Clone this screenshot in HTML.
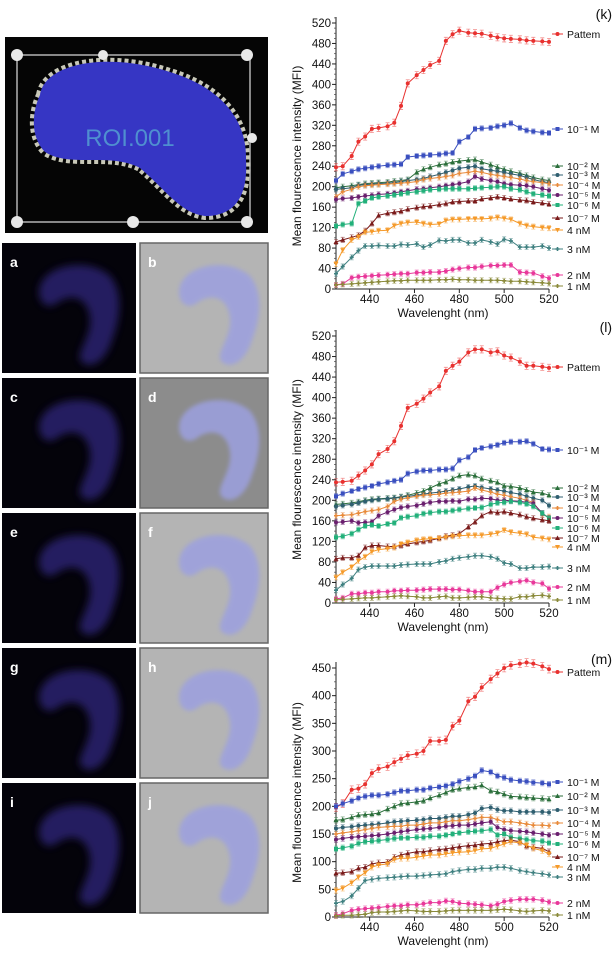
<!DOCTYPE html>
<html><head><meta charset="utf-8"><style>
html,body{margin:0;padding:0;background:#fff;}
svg{display:block;font-family:"Liberation Sans",sans-serif;}
</style></head><body>
<svg id="fig" width="615" height="957" viewBox="0 0 615 957" xmlns="http://www.w3.org/2000/svg">
<defs>
<filter id="blur2"><feGaussianBlur stdDeviation="2"/></filter>
<filter id="blur4"><feGaussianBlur stdDeviation="4"/></filter>
<clipPath id="topclip"><rect x="5" y="37" width="263" height="196"/></clipPath>
</defs>
<g id="top-image" clip-path="url(#topclip)">
<rect x="5" y="37" width="263" height="196" fill="#050505"/>
<rect x="17" y="55" width="233" height="167" fill="none" stroke="#888" stroke-width="2"/>
<path d="M 40,95 C 45,62 110,52 170,72 C 222,88 247,120 246,160 C 248,195 236,216 205,216 C 180,213 166,190 140,168 C 110,152 70,168 45,152 C 30,137 32,112 40,95 Z" fill="none" stroke="#c8c8b8" stroke-width="8" stroke-dasharray="4 3"/>
<path d="M 40,95 C 45,62 110,52 170,72 C 222,88 247,120 246,160 C 248,195 236,216 205,216 C 180,213 166,190 140,168 C 110,152 70,168 45,152 C 30,137 32,112 40,95 Z" fill="#3636c4"/>
<text x="130" y="146" font-size="24" fill="#4f8fd0" text-anchor="middle">ROI.001</text>
<g fill="#e8e8e8">
<circle cx="17" cy="55" r="6"/><circle cx="103" cy="55" r="5"/><circle cx="247" cy="55" r="6"/>
<circle cx="17" cy="222" r="6"/><circle cx="133" cy="222" r="6"/><circle cx="247" cy="222" r="6"/><circle cx="252" cy="138" r="5"/>
</g>
</g>
<g id="panels"></g>
<g id="chart-k"></g>
<g id="chart-l"></g>
<g id="chart-m"></g>
</svg>
<script>
const wavelengths=[425,428,432,435,438,441,444,448,451,454,457,461,464,467,471,474,477,480,484,487,490,494,497,500,503,507,510,513,517,520];
const seriesNames=["Pattem","10\u207B\u00B9 M","10\u207B\u00B2 M","10\u207B\u00B3 M","10\u207B\u2074 M","10\u207B\u2075 M","10\u207B\u2076 M","10\u207B\u2077 M","4 nM","3 nM","2 nM","1 nM"];
// chart k
const k_pattem=[238,240,260,288,298,313,315,318,325,358,402,418,428,438,446,485,498,505,501,500,499,495,492,490,489,488,486,485,484,483];
const k_m1=[212,225,230,234,236,238,240,242,243,244,258,260,261,262,263,265,266,288,297,313,314,315,318,320,324,315,310,308,306,305];
const k_m2=[198,200,202,204,206,207,208,209,211,212,214,228,234,238,243,245,248,250,252,253,248,243,238,234,230,226,222,218,214,212];
const k_m3=[195,196,198,203,204,205,206,207,208,210,212,214,216,220,224,228,232,236,238,240,235,232,230,228,225,222,218,214,210,208];
const k_m4=[180,190,195,200,202,203,204,205,206,207,208,210,214,216,218,220,222,226,228,230,228,224,222,220,218,215,212,210,208,206];
const k_m5=[175,177,178,180,182,183,185,186,188,190,192,195,196,198,200,202,204,206,210,220,215,212,210,206,204,203,202,200,196,193];
const k_m6=[123,126,128,167,172,178,180,182,184,186,188,190,192,194,195,196,196,196,196,197,198,199,200,200,196,194,190,186,184,182];
const k_m7=[92,96,101,105,114,128,144,148,150,152,156,159,161,162,165,167,170,171,172,172,176,178,180,178,176,174,173,170,168,166];
const k_n4=[49,76,96,102,111,112,114,115,124,128,130,131,128,126,127,134,136,136,137,137,137,138,140,138,136,128,124,122,120,119];
const k_n3=[30,44,62,75,84,84,85,84,84,87,86,88,82,86,95,94,96,96,90,90,96,92,88,97,94,82,82,82,84,80];
const k_n2=[8,10,22,24,25,26,27,28,29,30,30,32,32,33,33,35,38,40,42,42,44,46,46,47,47,33,32,31,25,21];
const k_n1=[8,9,10,11,12,13,14,15,16,16,17,17,17,17,18,18,19,18,18,17,17,17,17,16,15,15,14,13,12,11];
// chart l
const l_pattem=[235,236,238,248,258,270,290,300,315,345,380,388,398,410,422,452,462,470,488,494,494,488,490,482,478,470,462,462,460,458];
const l_m1=[208,213,218,222,225,228,232,235,238,240,252,256,258,258,260,260,262,278,284,298,302,305,308,312,314,314,315,310,300,299];
const l_m2=[192,193,195,197,200,202,203,204,205,207,210,214,218,224,232,236,242,248,250,248,242,238,235,228,227,224,220,216,214,210];
const l_m3=[188,190,192,195,198,200,202,203,204,206,208,210,212,214,216,218,220,222,226,228,225,222,220,218,215,212,208,204,200,190];
const l_m4=[170,171,172,175,178,180,182,188,198,202,205,208,210,211,212,214,215,216,218,224,220,216,212,210,207,204,200,196,172,168];
const l_m5=[157,158,160,156,157,158,170,177,182,186,188,190,193,196,198,198,199,198,202,202,204,203,200,200,199,198,196,194,175,165];
const l_m6=[128,130,135,143,150,152,150,154,156,166,168,170,174,176,178,178,180,182,184,185,186,192,195,196,198,196,193,188,175,165];
const l_m7=[86,88,88,92,108,112,112,110,110,112,115,118,120,122,126,130,132,135,148,158,170,178,176,178,175,172,168,165,162,160];
const l_n4=[50,60,70,82,90,100,104,106,108,115,118,122,124,125,126,128,130,131,132,132,132,134,136,142,138,136,134,128,126,124];
const l_n3=[25,36,48,65,70,72,72,72,72,74,75,76,76,76,80,82,86,88,90,92,92,90,86,78,76,68,68,70,70,71];
const l_n2=[8,10,18,18,20,20,22,22,24,24,25,25,26,27,27,27,26,26,24,22,22,22,30,36,40,42,44,40,38,28];
const l_n1=[6,7,8,9,10,10,11,12,13,14,13,12,10,10,12,13,10,10,11,12,12,10,9,8,8,12,12,14,15,13];
// chart m
const m_pattem=[198,205,230,232,240,260,268,272,280,286,292,295,300,318,318,320,345,355,390,398,415,430,440,450,455,458,460,458,453,448];
const m_m1=[200,205,210,215,218,220,220,222,225,228,228,230,230,233,235,237,240,245,250,255,265,262,255,252,248,246,245,243,242,240];
const m_m2=[175,176,180,184,185,186,188,195,200,205,206,208,210,215,220,225,230,232,234,235,238,228,226,222,218,217,216,215,214,213];
const m_m3=[160,162,163,165,166,167,168,170,172,173,174,175,176,178,178,180,182,182,185,188,196,198,194,192,192,190,190,190,190,189];
const m_m4=[150,152,154,156,158,160,162,163,164,164,166,166,168,170,170,172,174,174,176,178,180,180,176,172,172,170,168,166,166,165];
const m_m5=[140,142,144,145,146,147,148,150,152,154,156,158,159,160,162,164,165,166,166,168,170,172,162,158,156,155,154,152,150,148];
const m_m6=[123,125,128,133,136,137,138,140,142,143,143,144,144,146,146,148,150,152,154,155,156,158,148,150,144,142,140,138,137,134];
const m_m7=[79,80,82,88,90,96,98,99,108,112,115,118,118,120,122,123,125,127,129,130,132,133,136,138,139,136,128,126,124,118];
const m_n4=[48,52,62,72,80,90,94,96,104,106,106,108,110,112,112,114,116,117,118,120,123,124,128,132,136,134,130,124,120,114];
const m_n3=[25,28,38,52,66,68,70,71,72,73,74,74,75,76,77,78,82,84,86,86,88,88,90,90,88,84,82,80,78,76];
const m_n2=[3,6,12,14,15,16,17,19,20,20,22,22,24,26,26,29,28,25,24,23,22,20,23,28,30,32,32,32,30,27];
const m_n1=[2,3,3,4,5,8,9,9,10,11,12,11,10,10,10,11,12,12,12,12,12,12,13,14,13,11,10,11,12,11];
const xTicks=[440,460,480,500,520];
const kTicks=[0,40,80,120,160,200,240,280,320,360,400,440,480,520];
const lTicks=[0,40,80,120,160,200,240,280,320,360,400,440,480,520];
const mTicks=[0,50,100,150,200,250,300,350,400,450];

const NS="http://www.w3.org/2000/svg";
function mk(tag,attrs,parent){const e=document.createElementNS(NS,tag);for(const k in attrs)e.setAttribute(k,attrs[k]);if(parent)parent.appendChild(e);return e;}
const colors=["#e8312f","#3a4fbf","#2a6e3a","#2f5f70","#e88a3a","#6a1f6e","#22b07a","#7a1a1a","#f59a2a","#3f8080","#e8389a","#8a8a3a"];
const markers=["circle","square","triup","circle","cross","circle","square","triup","tridown","star","circle","cross"];

function marker(g,type,x,y,c,s){
  if(type==="circle")mk("circle",{cx:x,cy:y,r:s,fill:c},g);
  else if(type==="square")mk("rect",{x:x-s,y:y-s,width:2*s,height:2*s,fill:c},g);
  else if(type==="triup")mk("polygon",{points:`${x},${y-s-0.5} ${x-s-0.5},${y+s} ${x+s+0.5},${y+s}`,fill:c},g);
  else if(type==="tridown")mk("polygon",{points:`${x},${y+s+0.5} ${x-s-0.5},${y-s} ${x+s+0.5},${y-s}`,fill:c},g);
  else {mk("path",{d:`M${x-s},${y}H${x+s}M${x},${y-s}V${y+s}`,stroke:c,"stroke-width":1.6},g);}
}

function drawChart(id,letter,series,yTicks,yMax,yTop,yBot,legendY){
  const g=document.getElementById(id);
  const X0=336,X1=549;
  const xs=v=>X0+(v-425)*(X1-X0)/95;
  const ys=v=>yBot-(v)*(yBot-yTop)/yMax;
  const ax=mk("g",{},g);
  
  
  mk("line",{x1:X0,y1:yTop-6,x2:X0,y2:yBot,stroke:"#222","stroke-width":1},ax);
  mk("line",{x1:X0,y1:yBot,x2:X1,y2:yBot,stroke:"#222","stroke-width":1},ax);
  const step=(yBot-yTop)/((yTicks.length-1)*4);
  for(let p=yBot;p>=yTop-6;p-=step)mk("line",{x1:X0-2,y1:p,x2:X0,y2:p,stroke:"#444","stroke-width":0.7},ax);
  yTicks.forEach(t=>{
    mk("line",{x1:X0-4,y1:ys(t),x2:X0,y2:ys(t),stroke:"#222"},ax);
    const tx=mk("text",{x:X0-5,y:ys(t)+4,"font-size":11.5,"text-anchor":"end",fill:"#111"},ax);
    tx.textContent=t;
    
    
  });
  xTicks.forEach(t=>{
    mk("line",{x1:xs(t),y1:yBot,x2:xs(t),y2:yBot+4,stroke:"#222"},ax);
    const tx=mk("text",{x:xs(t),y:yBot+14,"font-size":11.5,"text-anchor":"middle",fill:"#111"},ax);
    tx.textContent=t;
    
    
  });
  const xt=mk("text",{x:443,y:yBot+28,"font-size":12,"text-anchor":"middle",fill:"#111"},g);
  xt.textContent="Wavelenght (nm)";
  
  
  const cy=(yTop+yBot)/2;
  const yt=mk("text",{x:301,y:cy,"font-size":12,"text-anchor":"middle",fill:"#111",transform:`rotate(-90 301 ${cy})`},g);
  yt.textContent="Mean flourescence intensity (MFI)";
  
  
  const pl=mk("text",{x:612,y:yTop-4,"font-size":14,"text-anchor":"end",fill:"#111"},g);
  pl.textContent=letter;
  
  
  series.forEach((vals,si)=>{
    const c=colors[si];
    const sg=mk("g",{},g);
    
    
    let d="";
    vals.forEach((v,i)=>{d+=(i?"L":"M")+xs(wavelengths[i]).toFixed(1)+","+ys(v).toFixed(1);});
    mk("path",{d:d,fill:"none",stroke:c,"stroke-width":1},sg);
    const e=si===0?7:5;
    vals.forEach((v,i)=>{
      const x=xs(wavelengths[i]),y=ys(v),eh=e*(yBot-yTop)/yMax;
      mk("path",{d:`M${x},${y-eh}V${y+eh}M${x-2},${y-eh}H${x+2}M${x-2},${y+eh}H${x+2}`,stroke:c,"stroke-width":0.8,opacity:0.55},sg);
      marker(sg,markers[si],x,y,c,2);
    });
    const lg=mk("g",{},g);
    
    
    const ly=legendY[si];
    mk("line",{x1:552,y1:ly,x2:563,y2:ly,stroke:c,"stroke-width":1},lg);
    marker(lg,markers[si],557.5,ly,c,2);
    const lt=mk("text",{x:567,y:ly+4,"font-size":10.5,fill:"#111"},lg);
    lt.textContent=seriesNames[si];
  });
}
drawChart("chart-k","(k)",[k_pattem,k_m1,k_m2,k_m3,k_m4,k_m5,k_m6,k_m7,k_n4,k_n3,k_n2,k_n1],kTicks,520,23,289,
  [34,129,166,175,185,195,205,218,230,249,275,286]);
drawChart("chart-l","(l)",[l_pattem,l_m1,l_m2,l_m3,l_m4,l_m5,l_m6,l_m7,l_n4,l_n3,l_n2,l_n1],lTicks,520,336,603,
  [367,450,488,497,508,518,528,538,547,568,587,600]);
drawChart("chart-m","(m)",[m_pattem,m_m1,m_m2,m_m3,m_m4,m_m5,m_m6,m_m7,m_n4,m_n3,m_n2,m_n1],mTicks,450,668,917,
  [672,782,796,810,823,834,844,857,867,877,903,915]);

const pg=document.getElementById("panels");
const rows=[243,378,513,648,783];
const labels=[["a","b"],["c","d"],["e","f"],["g","h"],["i","j"]];
const blob="M 30,38 C 38,15 80,10 100,28 C 114,45 110,72 102,92 C 96,112 82,122 72,114 C 64,106 82,90 80,70 C 78,50 62,44 47,55 C 36,63 26,52 30,38 Z";
rows.forEach((y,r)=>{
  const L=mk("g",{},pg);
  
  
  mk("rect",{x:2,y:y,width:134,height:130,fill:"#04030a"},L);
  mk("path",{d:blob,fill:"#2c2470",opacity:0.85,filter:"url(#blur4)",transform:`translate(${10},${y+5})`},L);
  const t1=mk("text",{x:10,y:y+24,"font-size":14,"font-weight":"bold",fill:"#fff"},L);t1.textContent=labels[r][0];
  const R=mk("g",{},pg);
  
  
  mk("rect",{x:140,y:y,width:128,height:130,fill:r==1?"#8c8c8c":"#b4b4b4",stroke:"#666","stroke-width":1.5},R);
  mk("path",{d:blob,fill:"#9ca0e0",opacity:0.85,filter:"url(#blur2)",transform:`translate(${150},${y+5})`},R);
  const t2=mk("text",{x:148,y:y+24,"font-size":14,"font-weight":"bold",fill:"#fff"},R);t2.textContent=labels[r][1];
});
</script>
</body></html>
